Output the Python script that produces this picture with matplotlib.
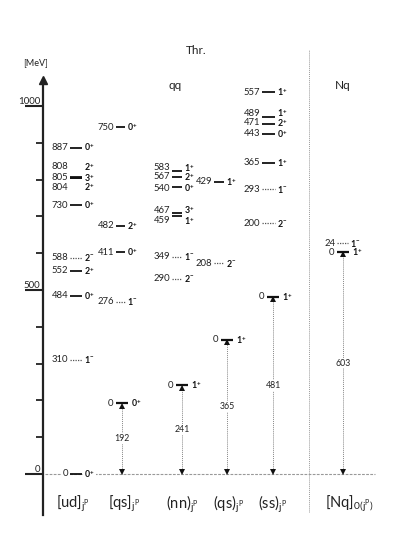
import matplotlib
matplotlib.use('Agg')
import matplotlib.pyplot as plt
from matplotlib.ticker import FixedLocator

plt.rcParams['font.family'] = ['Lato', 'DejaVu Sans']
plt.rcParams['mathtext.fontset'] = 'custom'
plt.rcParams['mathtext.rm'] = 'Lato'
plt.rcParams['mathtext.it'] = 'Lato:italic'
plt.rcParams['mathtext.bf'] = 'Lato:bold'

# -------------------------------------------------------
# DATA (MeV)
# -------------------------------------------------------
ud_E = [0, 310, 484, 552, 588, 730, 804, 805, 808, 887]
ud_JP = ['0+', '1-', '0+', '2+', '2-', '0+', '2+', '3+', '2+', '0+']

qsd_thr = 192
qsd_E = [276, 411, 482, 750]
qsd_JP = ['1-', '0+', '2+', '0+']

nn_thr = 241
nn_E = [290, 349, 459, 467, 540, 567, 583]
nn_JP = ['2-', '1-', '1+', '3+', '0+', '2+', '1+']

qs_thr = 365
qs_E = [208, 429]
qs_JP = ['2-', '1+']

ss_thr = 481
ss_E = [200, 293, 365, 443, 471, 489, 557]
ss_JP = ['2-', '1-', '1+', '0+', '2+', '1+', '1+']

nq_thr = 603
nq_E = [24]
nq_JP = ['1-']

thr_JP = {'qsd': '0+', 'nn': '1+', 'qs': '1+', 'ss': '1+', 'nq': '1+'}

col_labels = [r'[ud]$_{\mathrm{j^P}}$', r'[qs]$_{\mathrm{j^P}}$', r'(nn)$_{\mathrm{j^P}}$',
              r'(qs)$_{\mathrm{j^P}}$', r'(ss)$_{\mathrm{j^P}}$', r'[Nq]$_{\mathrm{0(j^P)}}$']

# -------------------------------------------------------
# LAYOUT (pixel-like x units, MeV on y)
# -------------------------------------------------------
W, H = 393, 556
Y0, PX = 474, 0.368          # baseline row and px per MeV


def mev(ypx):
    return (Y0 - ypx) / PX


TXT = '#222222'
NUM_FS = 6.8
JP_FS = 6.3

fig = plt.figure(figsize=(W / 100, H / 100), dpi=100)
ax = fig.add_axes([43 / W, (H - 515) / H, 1 - 43 / W, (515 - 80) / H])
ax.set_xlim(43, W)
ax.set_ylim(mev(515), mev(80))

for s in ['top', 'right', 'bottom']:
    ax.spines[s].set_visible(False)
ax.spines['left'].set_linewidth(1.6)
ax.spines['left'].set_color(TXT)
ax.set_xticks([])
ax.set_yticks([0, 500, 1000])
ax.yaxis.set_minor_locator(FixedLocator([100, 200, 300, 400, 600, 700, 800, 900]))
ax.tick_params(axis='y', which='major', length=13, width=1.5, color=TXT,
               labelsize=7, labelcolor=TXT, pad=-10.8)
ax.tick_params(axis='y', which='minor', length=5, width=1.3, color=TXT)
for lbl in ax.get_yticklabels():
    lbl.set_verticalalignment('bottom')

# axis arrow head
ax.plot([0], [1], marker='^', ms=6, color=TXT, transform=ax.transAxes, clip_on=False)
ax.text(36, mev(63), '[MeV]', fontsize=6.5, color=TXT, ha='center', va='center')


def jp_tex(jp):
    return r'$\mathbf{%s^{%s}}$' % (jp[0], jp[1])


def draw_levels(E_list, JP_list, base, x0, x1, nudge):
    for e, jp in zip(E_list, JP_list):
        y = base + e
        if jp.endswith('-'):
            ax.plot([x0, x1], [y, y], color='#555555', lw=0.9, ls=(0, (1, 1)))
        else:
            ax.plot([x0, x1], [y, y], color='#111111', lw=1.3, solid_capstyle='butt')
        dy = nudge.get(e, 0) * 0.72
        # ground state sits on the dashed baseline: mask it
        box = dict(fc='white', ec='none', pad=0.8) if y == 0 else None
        ax.annotate(str(e), (x0, y), xytext=(-1.2, dy), textcoords='offset points',
                    ha='right', va='center', fontsize=NUM_FS, color=TXT, bbox=box)
        ax.annotate(jp_tex(jp), (x1, y), xytext=(1.5, dy), textcoords='offset points',
                    ha='left', va='center', fontsize=JP_FS, color='#111111', bbox=box)


def draw_threshold(thr, jp, xa):
    ax.plot([xa, xa], [0, thr], color='#888888', lw=0.7, ls=(0, (1, 1)), zorder=1)
    ax.plot([xa - 6, xa + 6], [thr, thr], color='#111111', lw=1.6, solid_capstyle='butt')
    ax.plot(xa, thr - 2.4 / PX, marker='^', ms=4, color='#111111', mew=0)
    ax.plot(xa, 2.4 / PX, marker='v', ms=4, color='#111111', mew=0)
    ax.annotate('0', (xa - 6, thr), xytext=(-2, 0), textcoords='offset points',
                ha='right', va='center', fontsize=NUM_FS, color=TXT)
    ax.annotate(jp_tex(jp), (xa + 6, thr), xytext=(2, 0), textcoords='offset points',
                ha='left', va='center', fontsize=JP_FS, color='#111111')
    ax.text(xa, thr / 2, str(thr), fontsize=6.3, color=TXT, ha='center', va='center',
            bbox=dict(fc='white', ec='none', pad=0.6))


# baseline and separator
ax.plot([45, 375], [0, 0], color='#999999', lw=0.8, ls=(0, (2.5, 1.2)), zorder=0)
ax.plot([309, 309], [mev(512), mev(50)], color='#999999', lw=0.7, ls=(0, (1, 1)),
        clip_on=False, zorder=0)

# columns
draw_levels(ud_E, ud_JP, 0, 70, 82, {808: 10, 804: -9})

draw_levels(qsd_E, qsd_JP, qsd_thr, 116, 125, {})
draw_threshold(qsd_thr, thr_JP['qsd'], 122)

draw_levels(nn_E, nn_JP, nn_thr, 172, 182, {583: 3, 540: -2, 467: 3, 459: -4.5})
draw_threshold(nn_thr, thr_JP['nn'], 182)

draw_levels(qs_E, qs_JP, qs_thr, 214, 224, {})
draw_threshold(qs_thr, thr_JP['qs'], 227)

draw_levels(ss_E, ss_JP, ss_thr, 262, 275, {489: 4, 471: 1})
draw_threshold(ss_thr, thr_JP['ss'], 273)

draw_levels(nq_E, nq_JP, nq_thr, 337, 348, {})
draw_threshold(nq_thr, thr_JP['nq'], 343)

# headers
ax.text(196, mev(50), 'Thr.', fontsize=8.5, color=TXT, ha='center', va='center')
ax.text(175, mev(85), 'qq', fontsize=8.5, color=TXT, ha='center', va='center')
ax.text(343, mev(85), 'Nq', fontsize=8.5, color=TXT, ha='center', va='center')

# column labels
for x, lab in zip([73, 124, 182, 229, 273, 349], col_labels):
    ax.text(x, mev(504), lab, fontsize=10.5, color=TXT, ha='center', va='center')

fig.savefig('out.png', dpi=100)
